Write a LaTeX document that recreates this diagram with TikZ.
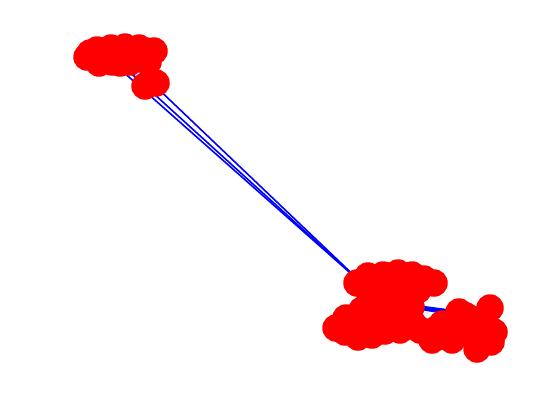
\documentclass[tikz,border=0pt]{standalone}
\begin{document}
\begin{tikzpicture}[x=1pt,y=-1pt,
  vtx/.style={circle,fill=red,draw=none,minimum size=27.5pt,inner sep=0pt},
  edg/.style={draw=blue,line width=1.6pt}]
\useasboundingbox (0,0) rectangle (551,416);
% top cluster
\foreach \n/\x/\y in {t1/87/57,t2/97/50,t3/111/48,t4/125/47,t5/139/48,t6/154/51,t7/99/63,t8/112/62,t9/128/60,t10/142/58,t11/118/52,t12/120/63,t13/130/62,t14/145/86,t15/156/83,t16/105/56,t17/148/62,t18/90/53,t19/132/50,t20/146/51}
  \coordinate (\n) at (\x,\y);
% bottom upper blob
\foreach \n/\x/\y in {u1/357/283,u2/368/276,u3/383/275,u4/398/273,u5/412/275,u6/424/279,u7/434/283,u8/365/286,u9/395/287,u10/418/290,u11/380/289,u12/408/286,u13/388/298,u14/372/300,u15/390/276,u16/405/276}
  \coordinate (\n) at (\x,\y);
% bottom lower-left blob
\foreach \n/\x/\y in {l1/336/328,l2/346/318,l3/358/337,l4/370/322,l5/385/331,l6/400/330,l7/412/322,l8/395/312,l9/355/322,l10/380/312,l11/411/307,l12/372/335,l13/345/332,l14/398/304,l15/362/310,l16/420/330}
  \coordinate (\n) at (\x,\y);
% right cluster
\foreach \n/\x/\y in {r1/432/340,r2/444/336,r3/459/312,r4/466/316,r5/475/320,r6/490/308,r7/494/332,r8/491/342,r9/477/349,r10/465/330,r11/442/324,r12/452/340,r13/480/330,r14/435/330}
  \coordinate (\n) at (\x,\y);
% edges
\draw[edg] (t8) -- (u8);
\draw[edg] (t12) -- (u8);
\draw[edg] (t13) -- (u8);
\draw[edg] (t12) -- (t14);
\draw[edg,line width=3pt] (l11) -- (r3);
\draw[edg,line width=3pt] (l14) -- (r3);
\draw[edg,line width=3pt] (l11) -- (r4);
% nodes
\foreach \n in {t1,t2,t3,t4,t5,t6,t7,t8,t9,t10,t11,t12,t13,t14,t15,t16,t17,t18,t19,t20,
  u1,u2,u3,u4,u5,u6,u7,u8,u9,u10,u11,u12,u13,u14,u15,u16,
  l1,l2,l3,l4,l5,l6,l7,l8,l9,l10,l11,l12,l13,l14,l15,l16,
  r1,r2,r3,r4,r5,r6,r7,r8,r9,r10,r11,r12,r13,r14}
  \node[vtx] (v\n) at (\n) {};
\end{tikzpicture}
\end{document}
